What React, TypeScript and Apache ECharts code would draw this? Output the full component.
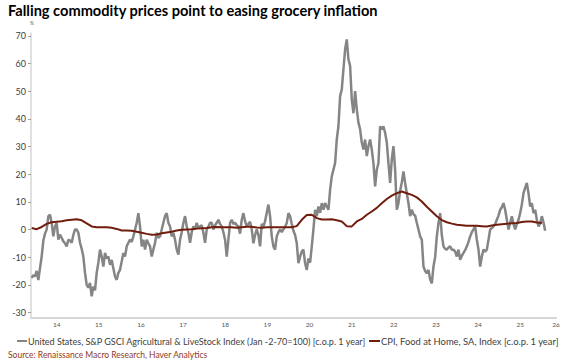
import React, { useEffect, useRef } from "react";
import * as echarts from "echarts";

const titleText = "Falling commodity prices point to easing grocery inflation";
const sourceText = "Source: Renaissance Macro Research, Haver Analytics";
const gsciName = "United States, S&P GSCI Agricultural & LiveStock Index (Jan -2-70=100) [c.o.p. 1 year]";
const cpiName = "CPI, Food at Home, SA, Index [c.o.p. 1 year]";

// decimal-year start and spacing of the readings
const gsciStart = 2013.9057;
const gsciStep = 0.03957;
const gsciValues = [
  -17.5, -16.5, -17, -15, -18.3,
  -14, -9.8, -4, -1.5, 0, 4.8,
  5.3, 2.4, -2.5, 1.1, 2.4, -3.7,
  -1.9, -3, -4.3, -5, -6.1, -3.7,
  -4, -4.8, -2, 0, 0, -1.2,
  -4.8, -7, -9.8, -15.7, -20, -21,
  -19.3, -24.2, -20.6, -22, -15.7, -12,
  -7.3, -9.8, -13.4, -8.5, -10.5, -9.8,
  -12.8, -11, -14, -17, -18.2, -15.7,
  -14.6, -11.6, -8.5, -9.8, -6.1, -4.8,
  -3.7, -4.5, -2.5, 0, 2.4, 5.9,
  1.1, -6.1, -3.7, -7.3, -3.7, -5,
  -6.1, -9.8, -7.3, -4.8, -1.2, -3,
  -2.5, 0, 2.4, 4.8, 5.9, 2.4,
  1.1, -2.5, -1.2, -3.7, -7.3, -9.1,
  -3.7, -1, 2.4, 4.8, 1.1, -1.2,
  -4.8, -1, 1.1, 0, 2.4, 0.5,
  1.1, 1.5, -1.2, -4.8, 0, 1,
  2.4, 2.4, 0, 1.5, 2.4, 3.5,
  2, 1.1, -1, -3.7, -9.8, -3.7,
  2.4, 3.5, 2, 2.4, 1.5, 1.1,
  -1.5, 3.5, 5.9, 3, 1.1, 2,
  2.8, 0, -5, -2, 0, -2,
  -6.1, 2, 1, 3, 6, 9,
  4.8, -2.5, -6.1, -7.3, -2.5, -1,
  0, -1, 0, 1, 2.3, 5.9,
  4.8, 2, -0.5, -2, -4.9, -12.2,
  -9.8, -8, -7.3, -12.2, -14.6, -10.5,
  -12, -6.1, 0, 7.1, 4.8, 8.3,
  6, 9.5, 7.1, 9.5, 8.3, 7.1,
  14.3, 19.2, 21.6, 24, 32.5, 37.3,
  48.2, 50.6, 57.9, 65.1, 68.7, 61.5,
  59.1, 47, 42, 50, 43.4, 38.6,
  36.2, 31.4, 28.9, 32.5, 26.5, 30.1,
  32.5, 28.9, 24, 15.6, 21.6, 24,
  37.3, 36.2, 37.3, 34.9, 31.4, 24,
  16.8, 25.3, 30.1, 21.6, 7.1, 9.5,
  14, 17, 21, 16.8, 13.1, 9.5,
  4.8, 7.1, 5.5, 5, 2.4, 0,
  -2.5, -3.7, -13.4, -15, -15.8, -14.6,
  -18, -19.5, -13.4, -10, -2.5, 2.3,
  5.9, -2, -6.1, -7, -7.3, -6.5,
  -6.1, -7.3, -7.3, -8, -9.8, -7.3,
  -11, -9.5, -8.5, -7.5, -6.1, -4.5,
  -2.5, -1, 0, 1.1, -3.7, -7.3,
  -13.4, -9.8, -7.3, -8, -7.3, -3.7,
  0, 0.5, 1.1, 2, 3.5, 5,
  7.1, 8, 9.5, 7.1, 3.5, 0,
  2.3, 4.8, 2, 0, 2, 3.5,
  5.9, 9, 13.1, 15, 16.8, 13.1,
  8.3, 9.5, 5.9, 7.1, 3.5, 1.1,
  2.3, 4.8, 2.5, -0.5,
];

const cpiStart = 2013.9057;
const cpiStep = 0.11871;
const cpiValues = [
  0.5, 0.1, 0.9, 2.0, 2.6, 2.8, 3.0, 3.3, 3.5, 3.7,
  3.3, 2.2, 1.1, 0.8, 0.8, 0.8, 0.6, 0.2, -0.4, -0.4,
  -0.5, -0.8, -1.2, -1.6, -1.9, -1.8, -1.4, -1.1, -0.8, -0.4,
  -0.1, 0, 0.1, 0.3, 0.4, 0.5, 0.8, 0.9, 0.8, 0.8,
  0.8, 0.6, 0.8, 1.0, 1.0, 0.7, 0.6, 0.8, 0.8, 0.8,
  0.8, 0.8, 0.8, 1.2, 3.5, 5.2, 5.3, 4.1, 3.6, 3.6,
  3.7, 3.3, 2.9, 1.2, 1.1, 2.9, 3.8, 5.3, 6.5, 7.8,
  9.5, 11.0, 12.2, 13.1, 13.7, 13.1, 12.5, 11.6, 10.1, 8.2,
  6.5, 4.8, 3.4, 2.6, 2.1, 1.7, 1.5, 1.3, 1.3, 1.3,
  1.2, 1.1, 1.4, 1.7, 1.9, 2.1, 2.2, 2.3, 2.7, 2.9,
  2.9, 2.5, 2.3,
];

const yTicks = [-30, -20, -10, 0, 10, 20, 30, 40, 50, 60, 70];
const xLabelText = ["14", "15", "16", "17", "18", "19", "20", "21", "22", "23", "24", "25", "26"];
const xLabelPos = [2014.5, 2015.5, 2016.5, 2017.5, 2018.5, 2019.5, 2020.5, 2021.5, 2022.5, 2023.5, 2024.5, 2025.5, 2026.35];

const FONT = "Lato";
const GRAY = "#858585";
const BROWN = "#701d0e";

export default function App() {
  const ref = useRef<HTMLDivElement>(null);
  useEffect(() => {
    if (!ref.current) return;
    const chart = echarts.init(ref.current, undefined, { renderer: "svg" });
    const gsciData = gsciValues.map((v, i) => [gsciStart + i * gsciStep, v]);
    const cpiData = cpiValues.map((v, i) => [cpiStart + i * cpiStep, v]);
    chart.setOption({
      animation: false,
      backgroundColor: "#ffffff",
      textStyle: { fontFamily: FONT },
      grid: { left: 31, right: 11, top: 33, bottom: 46, containLabel: false },
      xAxis: {
        type: "value",
        min: 2013.89,
        max: 2026.35,
        axisLine: { show: true, onZero: false, lineStyle: { color: "#d6d6d6", width: 2 } },
        axisTick: { show: false },
        splitLine: { show: false },
        axisLabel: {
          customValues: xLabelPos,
          formatter: (v: number) => {
            let best = 0;
            xLabelPos.forEach((p, i) => {
              if (Math.abs(p - v) < Math.abs(xLabelPos[best] - v)) best = i;
            });
            return xLabelText[best];
          },
          fontSize: 6.5,
          color: "#555555",
          margin: 3,
          fontFamily: FONT,
        },
      },
      yAxis: {
        type: "value",
        min: -32,
        max: 71,
        axisLine: { show: true, onZero: false, lineStyle: { color: "#d6d6d6", width: 1.5 } },
        axisTick: { show: true, customValues: yTicks, length: 3, lineStyle: { color: "#a0a0a0" } },
        splitLine: { show: false },
        axisLabel: {
          customValues: yTicks,
          fontSize: 9,
          color: "#404040",
          margin: 5,
          fontFamily: FONT,
        },
      },
      graphic: [
        { type: "text", left: 8, top: 3, style: { text: titleText, font: `bold 14.6px ${FONT}`, fill: "#000000" } },
        { type: "text", left: 30, top: 20, style: { text: "%", font: `5px ${FONT}`, fill: "#606060" } },
        { type: "line", shape: { x1: 17, y1: 341, x2: 27, y2: 341 }, style: { stroke: GRAY, lineWidth: 2 } },
        { type: "text", x: 28, y: 341, style: { text: gsciName, font: `9px ${FONT}`, fill: "#404040", verticalAlign: "middle" } },
        { type: "line", shape: { x1: 369, y1: 341, x2: 380, y2: 341 }, style: { stroke: BROWN, lineWidth: 2 } },
        { type: "text", x: 381, y: 341, style: { text: cpiName, font: `9.4px ${FONT}`, fill: "#404040", verticalAlign: "middle" } },
        { type: "text", x: 8, y: 355, style: { text: sourceText, font: `8.5px ${FONT}`, fill: "#8f3a1c", verticalAlign: "middle" } },
      ],
      series: [
        {
          name: gsciName,
          type: "line",
          data: gsciData,
          showSymbol: false,
          lineStyle: { color: GRAY, width: 2.5 },
          itemStyle: { color: GRAY },
          z: 2,
        },
        {
          name: cpiName,
          type: "line",
          data: cpiData,
          showSymbol: false,
          lineStyle: { color: BROWN, width: 2 },
          itemStyle: { color: BROWN },
          z: 3,
        },
      ],
    });
    return () => chart.dispose();
  }, []);
  return <div ref={ref} style={{ width: 567, height: 364, position: "absolute", left: 0, top: 0 }} />;
}
